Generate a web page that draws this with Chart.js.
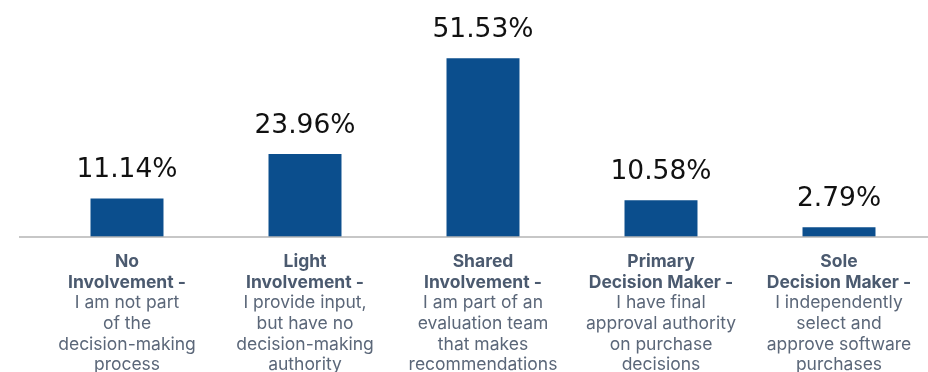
<!DOCTYPE html>
<html>
<head>
<meta charset="utf-8">
<script src="https://cdn.jsdelivr.net/npm/chart.js"></script>
<style>
    html, body { margin: 0; padding: 0; background: #ffffff; }
    .chart { position: relative; width: 928px; height: 372px; }
</style>
</head>
<body>
<div class="chart"><canvas id="involvementChart"></canvas></div>
<script>
// Level of involvement in software purchase decisions
const categories = ['No Involvement', 'Light Involvement', 'Shared Involvement', 'Primary Decision Maker', 'Sole Decision Maker'];
const labelHeads = [
    ['No', 'Involvement -'],
    ['Light', 'Involvement -'],
    ['Shared', 'Involvement -'],
    ['Primary', 'Decision Maker -'],
    ['Sole', 'Decision Maker -']
];
const labelDescs = [
    ['I am not part', 'of the', 'decision-making', 'process'],
    ['I provide input,', 'but have no', 'decision-making', 'authority'],
    ['I am part of an', 'evaluation team', 'that makes', 'recommendations'],
    ['I have final', 'approval authority', 'on purchase', 'decisions'],
    ['I independently', 'select and', 'approve software', 'purchases']
];
const shares = [11.14, 23.96, 51.53, 10.58, 2.79];

const BAR_COLOR = '#0b4e8d';
const HEAD_COLOR = '#4b5a6f';
const DESC_COLOR = '#5b6779';

// Draws baseline, value labels on top of bars and the multi-line category labels
const labelsPlugin = {
    id: 'labelsPlugin',
    afterDatasetsDraw(chart) {
        const ctx = chart.ctx;
        const area = chart.chartArea;
        const xScale = chart.scales.x;
        const yScale = chart.scales.y;
        const base = yScale.getPixelForValue(0);

        ctx.save();
        ctx.strokeStyle = '#b4b4b4';
        ctx.lineWidth = 1.5;
        ctx.beginPath();
        ctx.moveTo(19, base);
        ctx.lineTo(area.right, base);
        ctx.stroke();

        // value labels
        ctx.fillStyle = '#111111';
        ctx.font = '26.5px "DejaVu Sans", sans-serif';
        ctx.textAlign = 'center';
        ctx.textBaseline = 'alphabetic';
        chart.getDatasetMeta(0).data.forEach((bar, i) => {
            ctx.fillText(shares[i].toFixed(2) + '%', bar.x, bar.y - 21);
        });

        // category labels
        ctx.textBaseline = 'middle';
        categories.forEach((c, i) => {
            const x = xScale.getPixelForValue(i);
            let y = base + 25;
            ctx.font = 'bold 17.5px Inter, "Noto Sans", sans-serif';
            ctx.fillStyle = HEAD_COLOR;
            labelHeads[i].forEach(line => {
                ctx.fillText(line, x, y);
                y += 20.6;
            });
            ctx.font = '17.5px Inter, "Noto Sans", sans-serif';
            ctx.fillStyle = DESC_COLOR;
            labelDescs[i].forEach(line => {
                ctx.fillText(line, x, y);
                y += 20.6;
            });
        });
        ctx.restore();
    }
};

function createInvolvementChart() {
    const ctx = document.getElementById('involvementChart').getContext('2d');
    new Chart(ctx, {
        type: 'bar',
        data: {
            labels: categories,
            datasets: [{
                data: shares,
                backgroundColor: BAR_COLOR,
                barPercentage: 0.41,
                categoryPercentage: 1
            }]
        },
        options: {
            responsive: true,
            maintainAspectRatio: false,
            animation: false,
            layout: {
                padding: { left: 38, right: 0, top: 29, bottom: 135 }
            },
            plugins: {
                legend: { display: false },
                tooltip: { enabled: false }
            },
            scales: {
                x: { display: false },
                y: { display: false, min: 0, max: 60 }
            }
        },
        plugins: [labelsPlugin]
    });
}

document.addEventListener('DOMContentLoaded', createInvolvementChart);
</script>
</body>
</html>
